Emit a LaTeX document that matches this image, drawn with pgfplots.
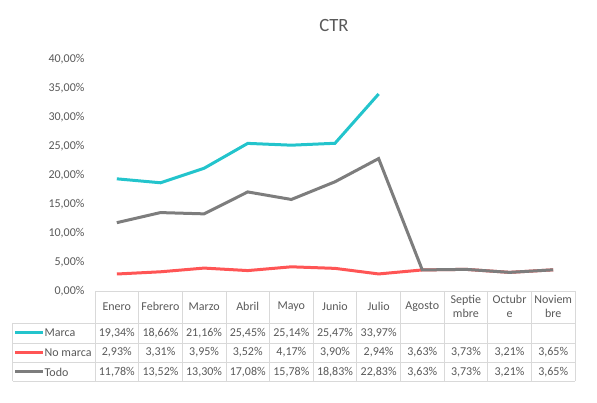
\documentclass[border=0pt]{standalone}
\usepackage{pgfplots}
\pgfplotsset{compat=1.18}
\usepackage{fontspec}
\setmainfont{Carlito}

\definecolor{marca}{RGB}{35,196,204}
\definecolor{nomarca}{RGB}{255,85,85}
\definecolor{todo}{RGB}{125,125,125}
\definecolor{txt}{RGB}{89,89,89}
\definecolor{tabgrid}{RGB}{217,217,217}

\pgfkeys{/pgf/number format/.cd, fixed, fixed zerofill, precision=2, use comma, assume math mode=true}

\begin{document}
\begin{tikzpicture}[x=1pt, y=1pt, font=\fontsize{12}{14}\selectfont, text=txt]
\useasboundingbox (0,0) rectangle (597,403);

\begin{axis}[
    at={(95pt,112pt)}, anchor=south west,
    scale only axis, width=480pt, height=232pt,
    xmin=-0.5, xmax=10.5,
    ymin=0, ymax=40,
    axis line style={draw=none},
    xtick=\empty,
    ytick={0,5,...,40},
    major tick length=0pt,
    yticklabel={\pgfmathprintnumber{\tick}\%},
    yticklabel style={text=txt, xshift=-7pt},
    clip=false,
]
\addplot[marca, line width=3pt] coordinates {
    (0,19.34)(1,18.66)(2,21.16)(3,25.45)(4,25.14)(5,25.47)(6,33.97)
};
\addplot[nomarca, line width=3pt] coordinates {
    (0,2.93)(1,3.31)(2,3.95)(3,3.52)(4,4.17)(5,3.90)(6,2.94)(7,3.63)(8,3.73)(9,3.21)(10,3.65)
};
\addplot[todo, line width=3pt] coordinates {
    (0,11.78)(1,13.52)(2,13.30)(3,17.08)(4,15.78)(5,18.83)(6,22.83)(7,3.63)(8,3.73)(9,3.21)(10,3.65)
};
\end{axis}

% title
\node[font=\fontsize{18.7}{20}\selectfont] at (334,377) {CTR};

% data table
\def\colw{43.636}
\begin{scope}[tabgrid, line width=0.75pt]
  \draw (95,112) -- (575,112);
  \foreach \yy in {80,60,40.5,22} \draw (12.5,\yy) -- (575,\yy);
  \foreach \i in {0,...,11} \draw ({95+\colw*\i},112) -- ({95+\colw*\i},22);
  \draw (12.5,80) -- (12.5,22);
\end{scope}

\foreach \m [count=\i from 0] in {Enero,Febrero,Marzo,Abril,Mayo,Junio,Julio,Agosto,Septie\\mbre,Octubr\\e,Noviem\\bre}
  \node[align=center, inner sep=0pt] at ({95+\colw*(\i+0.5)},96.5) {\m};

\foreach \v [count=\i from 0] in {19.34,18.66,21.16,25.45,25.14,25.47,33.97}
  \node[inner sep=0pt] at ({95+\colw*(\i+0.5)},70) {\pgfmathprintnumber{\v}\%};
\foreach \v [count=\i from 0] in {2.93,3.31,3.95,3.52,4.17,3.90,2.94,3.63,3.73,3.21,3.65}
  \node[inner sep=0pt] at ({95+\colw*(\i+0.5)},50.5) {\pgfmathprintnumber{\v}\%};
\foreach \v [count=\i from 0] in {11.78,13.52,13.30,17.08,15.78,18.83,22.83,3.63,3.73,3.21,3.65}
  \node[inner sep=0pt] at ({95+\colw*(\i+0.5)},31) {\pgfmathprintnumber{\v}\%};

% legend keys
\draw[marca, line width=3pt] (15,70) -- (43,70);
\draw[nomarca, line width=3pt] (15,50.5) -- (43,50.5);
\draw[todo, line width=3pt] (15,31) -- (43,31);
\node[anchor=west, inner sep=0pt] at (44.5,70) {Marca};
\node[anchor=west, inner sep=0pt] at (44.5,50.5) {No marca};
\node[anchor=west, inner sep=0pt] at (44.5,31) {Todo};
\end{tikzpicture}
\end{document}
